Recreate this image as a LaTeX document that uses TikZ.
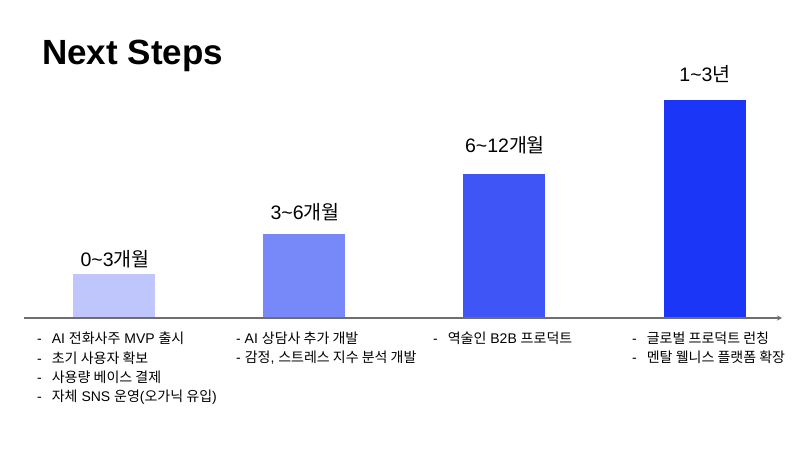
\documentclass[tikz,border=0pt]{standalone}
\usepackage{fontspec}
\setmainfont{Liberation Sans}
\newfontfamily\kr{Noto Sans CJK KR}
\usetikzlibrary{arrows.meta}
\definecolor{barA}{HTML}{BEC6FC}
\definecolor{barB}{HTML}{7788F9}
\definecolor{barC}{HTML}{4055F6}
\definecolor{barD}{HTML}{1C36F8}
\definecolor{axisgray}{HTML}{6E6E6E}
\begin{document}
\begin{tikzpicture}[x=1pt,y=-1pt,
  bar/.style={draw=none,anchor=south west,minimum width=82pt,inner sep=0pt,outer sep=0pt},
  period/.style={font=\fontsize{19.5}{22}\selectfont,anchor=center,inner sep=0pt},
  items/.style={font=\fontsize{14}{19.2}\selectfont,anchor=north west,align=left,inner sep=0pt}]
\useasboundingbox[fill=white] (0,0) rectangle (806,453);
\node[anchor=west,inner sep=0pt,font=\fontsize{35}{40}\selectfont\bfseries] (title) at (42,56) {Next Steps};
% bars
\node[bar,fill=barA,minimum height=44pt] (b1) at (73,318) {};
\node[bar,fill=barB,minimum height=84pt] (b2) at (263,318) {};
\node[bar,fill=barC,minimum height=144pt] (b3) at (463,318) {};
\node[bar,fill=barD,minimum height=218pt] (b4) at (664,318) {};
% axis
\coordinate (ax0) at (24,318);
\coordinate (ax1) at (782,318);
\draw[axisgray,line width=1.4pt,-{Stealth[length=5pt,width=5pt]}] (ax0) -- (ax1);
% period labels
\node[period] (l1) at (115,259) {0\textasciitilde3{\kr 개월}};
\node[period] (l2) at (305,212) {3\textasciitilde6{\kr 개월}};
\node[period] (l3) at (505,145) {6\textasciitilde12{\kr 개월}};
\node[period] (l4) at (705,74) {1\textasciitilde3{\kr 년}};
% item lists
\node[items] (t1) at (37,332) {-\hspace{10pt}AI {\kr 전화사주} MVP {\kr 출시}\\
-\hspace{10pt}{\kr 초기 사용자 확보}\\
-\hspace{10pt}{\kr 사용량 베이스 결제}\\
-\hspace{10pt}{\kr 자체} SNS {\kr 운영}({\kr 오가닉 유입})};
\node[items] (t2) at (236,332) {- AI {\kr 상담사 추가 개발}\\
- {\kr 감정}, {\kr 스트레스 지수 분석 개발}};
\node[items] (t3) at (433,332) {-\hspace{10pt}{\kr 역술인} B2B {\kr 프로덕트}};
\node[items] (t4) at (632,332) {-\hspace{10pt}{\kr 글로벌 프로덕트 런칭}\\
-\hspace{10pt}{\kr 멘탈 웰니스 플랫폼 확장}};
\end{tikzpicture}
\end{document}
